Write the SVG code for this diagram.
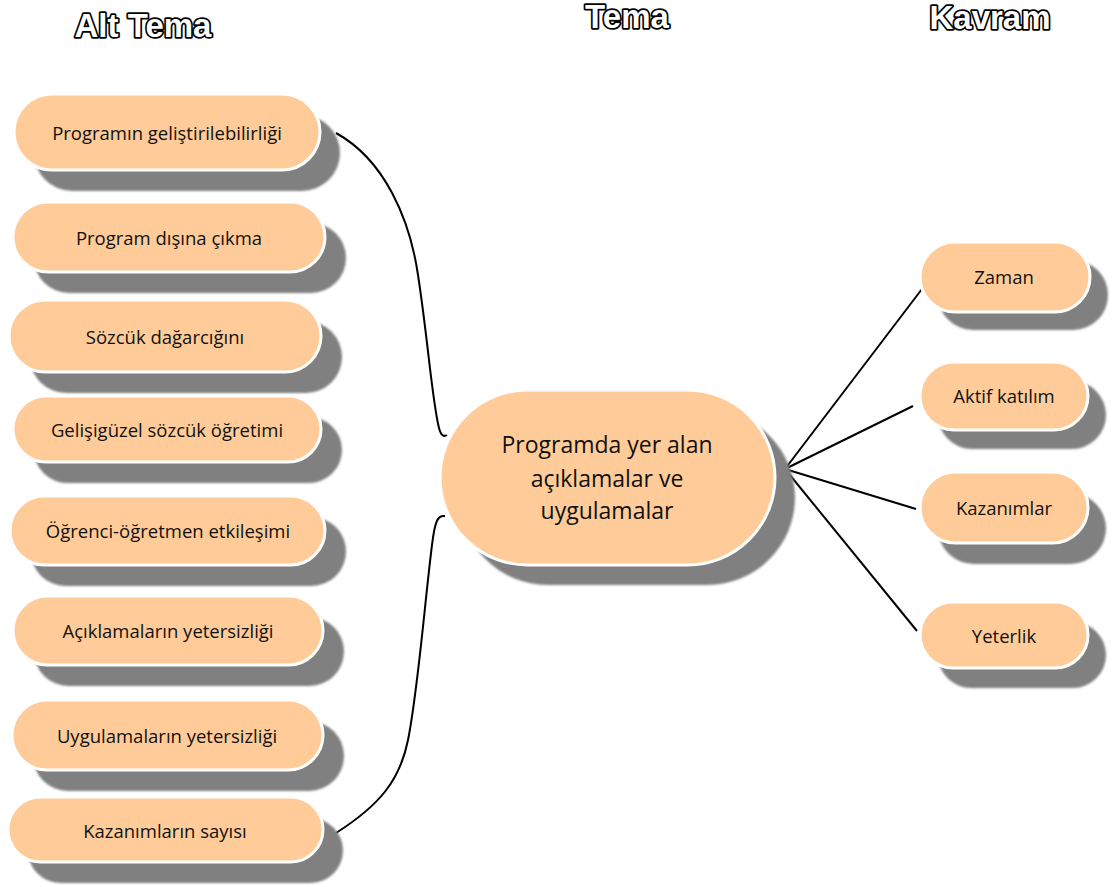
<svg xmlns="http://www.w3.org/2000/svg" width="1112" height="887" viewBox="0 0 1112 887">
  <defs>
    <filter id="soft" x="-10%" y="-10%" width="120%" height="120%">
      <feGaussianBlur stdDeviation="1"/>
    </filter>
  </defs>
  <style>
    .shadow { fill: #808080; filter: url(#soft); }
    .pill { fill: #FFCC99; stroke: #FFFFFF; stroke-width: 3; }
    .lbl { font-family: "Open Sans", "Noto Sans", sans-serif; font-size: 18.5px; fill: #111; text-anchor: middle; dominant-baseline: central; }
    .big { font-family: "Open Sans", "Noto Sans", sans-serif; font-size: 23px; fill: #111; text-anchor: middle; }
    .title { font-family: "Liberation Sans", Arial, sans-serif; font-weight: bold; font-size: 33px; fill: #FFFFFF; stroke: #000000; stroke-width: 3.5; stroke-linejoin: round; paint-order: stroke; text-anchor: middle; }
    .conn { fill: none; stroke: #000000; stroke-width: 2; }
  </style>

  <rect width="1112" height="887" fill="#FFFFFF"/>

  <g id="titles">
    <text class="title" x="143" y="37">Alt Tema</text>
    <text class="title" x="627" y="28">Tema</text>
    <text class="title" x="990" y="29">Kavram</text>
  </g>

  <g id="connectors">
    <path class="conn" d="M336,133 C385,160 410,220 418,275 C428,340 432,400 439,428 C441,436 444,437 447,435"/>
    <path class="conn" d="M336,833 C380,805 400,780 408,740 C418,690 425,600 432,545 C435,520 438,515 445,516"/>
    <line class="conn" x1="785" y1="469" x2="925" y2="285"/>
    <line class="conn" x1="785" y1="469" x2="913" y2="406"/>
    <line class="conn" x1="785" y1="469" x2="916" y2="509"/>
    <line class="conn" x1="785" y1="469" x2="917" y2="631"/>
  </g>

  <g id="node-l1">
    <rect class="shadow" x="34" y="115" width="306" height="76" rx="38"/>
    <rect class="pill" x="14" y="94" width="306" height="76" rx="38"/>
    <text class="lbl" x="167" y="132">Programın geliştirilebilirliği</text>
  </g>
  <g id="node-l2">
    <rect class="shadow" x="34" y="223" width="312" height="70" rx="35"/>
    <rect class="pill" x="13" y="202" width="312" height="70" rx="35"/>
    <text class="lbl" x="169" y="237">Program dışına çıkma</text>
  </g>
  <g id="node-l3">
    <rect class="shadow" x="30" y="321" width="312" height="72" rx="36"/>
    <rect class="pill" x="9" y="300" width="312" height="72" rx="36"/>
    <text class="lbl" x="165" y="336">Sözcük dağarcığını</text>
  </g>
  <g id="node-l4">
    <rect class="shadow" x="34" y="417" width="308" height="66" rx="33"/>
    <rect class="pill" x="13" y="396" width="308" height="66" rx="33"/>
    <text class="lbl" x="167" y="429">Gelişigüzel sözcük öğretimi</text>
  </g>
  <g id="node-l5">
    <rect class="shadow" x="31" y="517" width="315" height="69" rx="34.5"/>
    <rect class="pill" x="10" y="496" width="315" height="69" rx="34.5"/>
    <text class="lbl" x="168" y="530">Öğrenci-öğretmen etkileşimi</text>
  </g>
  <g id="node-l6">
    <rect class="shadow" x="34" y="617" width="310" height="69" rx="34.5"/>
    <rect class="pill" x="13" y="596" width="310" height="69" rx="34.5"/>
    <text class="lbl" x="168" y="630">Açıklamaların yetersizliği</text>
  </g>
  <g id="node-l7">
    <rect class="shadow" x="33" y="721" width="311" height="70" rx="35"/>
    <rect class="pill" x="12" y="700" width="311" height="70" rx="35"/>
    <text class="lbl" x="167" y="735">Uygulamaların yetersizliği</text>
  </g>
  <g id="node-l8">
    <rect class="shadow" x="28" y="818" width="315" height="65" rx="32.5"/>
    <rect class="pill" x="8" y="797" width="315" height="65" rx="32.5"/>
    <text class="lbl" x="165" y="830">Kazanımların sayısı</text>
  </g>

  <g id="node-center">
    <rect class="shadow" x="460" y="410" width="335" height="175" rx="87.5"/>
    <rect class="pill" x="440" y="390" width="335" height="175" rx="87.5"/>
    <text class="big" x="607" y="453">Programda yer alan</text>
    <text class="big" x="607" y="487">açıklamalar ve</text>
    <text class="big" x="607" y="519">uygulamalar</text>
  </g>

  <g id="node-r1">
    <rect class="shadow" x="938" y="260" width="170" height="70" rx="35"/>
    <rect class="pill" x="920" y="242" width="170" height="70" rx="35"/>
    <text class="lbl" x="1004" y="276">Zaman</text>
  </g>
  <g id="node-r2">
    <rect class="shadow" x="938" y="381" width="168" height="68" rx="34"/>
    <rect class="pill" x="920" y="362" width="168" height="68" rx="34"/>
    <text class="lbl" x="1004" y="395">Aktif katılım</text>
  </g>
  <g id="node-r3">
    <rect class="shadow" x="938" y="493" width="168" height="71" rx="35.5"/>
    <rect class="pill" x="920" y="472" width="168" height="71" rx="35.5"/>
    <text class="lbl" x="1004" y="507">Kazanımlar</text>
  </g>
  <g id="node-r4">
    <rect class="shadow" x="938" y="622" width="168" height="66" rx="33"/>
    <rect class="pill" x="920" y="602" width="168" height="66" rx="33"/>
    <text class="lbl" x="1004" y="635">Yeterlik</text>
  </g>
</svg>
